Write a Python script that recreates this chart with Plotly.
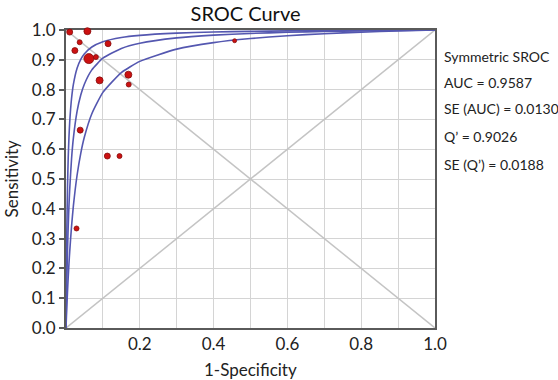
import plotly.graph_objects as go

# ---- data ----
fpr_grid = [0, 0.001, 0.002, 0.004, 0.006, 0.008, 0.01, 0.015, 0.02, 0.03, 0.04, 0.05,
            0.07, 0.1, 0.15, 0.2, 0.3, 0.4, 0.5, 0.6, 0.7, 0.8, 0.9, 1.0]
sroc_upper = [0, 0.1805, 0.3060, 0.4691, 0.5704, 0.6395, 0.6897, 0.7701, 0.8178, 0.8719,
              0.9016, 0.9205, 0.9431, 0.9607, 0.9749, 0.9821, 0.9895, 0.9932, 0.9955,
              0.9970, 0.9981, 0.9989, 0.9995, 1.0]
sroc_mid = [0, 0.0793, 0.1470, 0.2567, 0.3417, 0.4095, 0.4649, 0.5670, 0.6370, 0.7268,
            0.7818, 0.8190, 0.8662, 0.9053, 0.9382, 0.9556, 0.9736, 0.9829, 0.9885,
            0.9923, 0.9950, 0.9971, 0.9987, 1.0]
sroc_lower = [0, 0.0329, 0.0638, 0.1201, 0.1703, 0.2152, 0.2556, 0.3411, 0.4096, 0.5126,
              0.5862, 0.6415, 0.7190, 0.7907, 0.8571, 0.8947, 0.9358, 0.9577, 0.9714,
              0.9808, 0.9876, 0.9927, 0.9967, 1.0]

study_fpr = [0.010, 0.058, 0.037, 0.024, 0.062, 0.081, 0.114, 0.091, 0.169, 0.170,
             0.457, 0.0385, 0.112, 0.145, 0.0285]
study_sens = [0.993, 0.996, 0.959, 0.931, 0.904, 0.909, 0.954, 0.831, 0.850, 0.817,
              0.964, 0.664, 0.577, 0.577, 0.334]
study_weight = [6, 7, 5, 6, 10, 5, 6, 7, 7, 5, 4, 6, 6, 5, 5]

diag_x = [0, 1]
diag_y = [0, 1]
anti_y = [1, 0]

y_ticks = [0.0, 0.1, 0.2, 0.3, 0.4, 0.5, 0.6, 0.7, 0.8, 0.9, 1.0]
x_ticks = [0.0, 0.1, 0.2, 0.3, 0.4, 0.5, 0.6, 0.7, 0.8, 0.9, 1.0]
x_ticklabels = ["", "", "0.2", "", "0.4", "", "0.6", "", "0.8", "", "1.0"]
y_ticklabels = ["0.0", "0.1", "0.2", "0.3", "0.4", "0.5", "0.6", "0.7", "0.8", "0.9", "1.0"]

stats_lines = ["Symmetric SROC", "AUC = 0.9587", "SE (AUC) = 0.0130",
               "Q\u2019 = 0.9026", "SE (Q\u2019) = 0.0188"]

FONT = "Lato, 'Open Sans', sans-serif"

fig = go.Figure()
for yy in (diag_y, anti_y):
    fig.add_trace(go.Scatter(x=diag_x, y=yy, mode="lines",
                             line=dict(color="#c4c4c4", width=1.5),
                             hoverinfo="skip", showlegend=False))
for curve in (sroc_upper, sroc_mid, sroc_lower):
    fig.add_trace(go.Scatter(x=fpr_grid, y=curve, mode="lines",
                             line=dict(color="#5457b0", width=1.6, shape="spline", smoothing=0.5),
                             showlegend=False))
fig.add_trace(go.Scatter(x=study_fpr, y=study_sens, mode="markers",
                         marker=dict(size=study_weight, color="#cc1111", opacity=1,
                                     line=dict(color="#850c0c", width=0.8)),
                         opacity=1, cliponaxis=False, showlegend=False))

axis_common = dict(range=[0, 1], showgrid=True, gridcolor="#d4d4d4", gridwidth=1.2,
                   zeroline=False, showline=True, linecolor="#5a5a5a", linewidth=2,
                   mirror=True, layer="below traces",
                   tickfont=dict(family=FONT, size=17, color="#222"))
fig.update_xaxes(**axis_common, tickmode="array", tickvals=x_ticks, ticktext=x_ticklabels,
                 ticks="")
fig.update_yaxes(**axis_common, tickmode="array", tickvals=y_ticks, ticktext=y_ticklabels,
                 ticks="outside", ticklen=5, tickcolor="#5a5a5a", tickwidth=1.5)

annotations = []
ys = [0.910, 0.825, 0.735, 0.642, 0.550]
for txt, yv in zip(stats_lines, ys):
    annotations.append(dict(text=txt, xref="paper", yref="paper", x=1.02, y=yv,
                            xanchor="left", yanchor="middle", showarrow=False,
                            font=dict(family=FONT, size=14, color="#222")))
annotations.append(dict(text="1-Specificity", xref="paper", yref="paper", x=0.5, y=-0.14,
                        xanchor="center", yanchor="middle", showarrow=False,
                        font=dict(family=FONT, size=17, color="#222")))
annotations.append(dict(text="Sensitivity", xref="paper", yref="paper", x=-0.148, y=0.5,
                        xanchor="center", yanchor="middle", textangle=-90, showarrow=False,
                        font=dict(family=FONT, size=17, color="#222")))

fig.update_layout(
    width=558, height=380,
    margin=dict(l=66, r=123, t=30, b=52),
    paper_bgcolor="white", plot_bgcolor="white",
    title=dict(text="SROC Curve", x=0.44, xanchor="center", y=1 - 14 / 380,
               yanchor="middle", font=dict(family=FONT, size=20, color="#111")),
    annotations=annotations,
)

fig.write_html("out.html")
